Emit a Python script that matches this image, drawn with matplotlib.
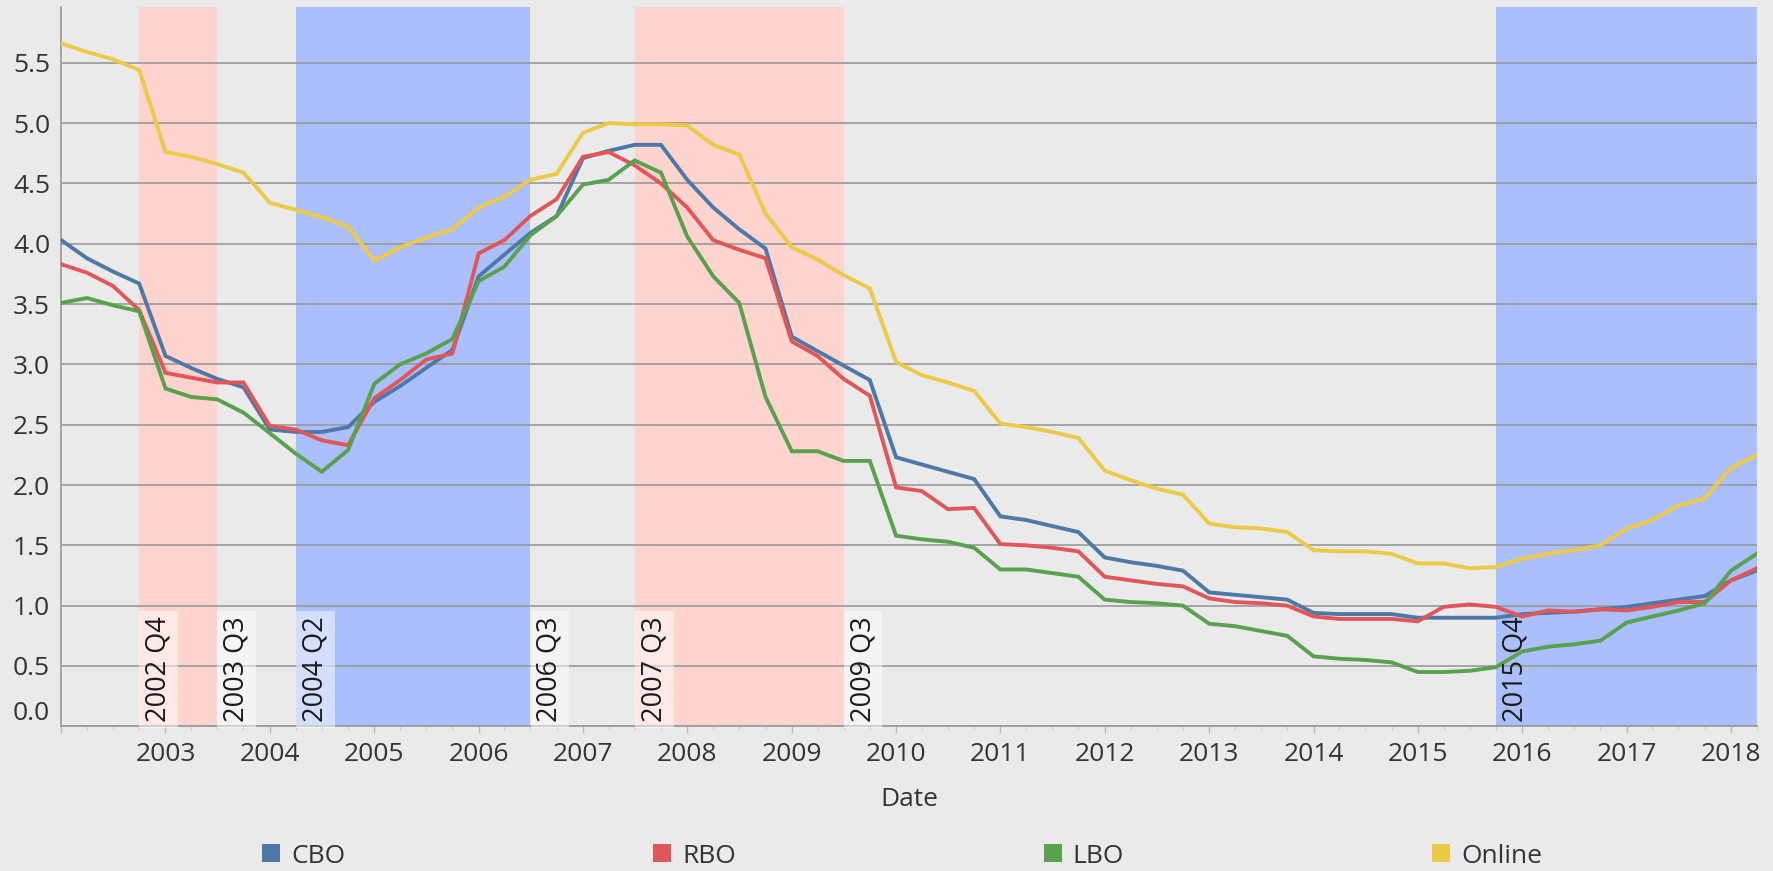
import matplotlib
matplotlib.use('Agg')
import matplotlib.pyplot as plt
import matplotlib.dates as mdates
from matplotlib.patches import Patch
import pandas as pd
import numpy as np

# ---- data (quarterly, 2002 Q1 .. 2018 Q2) ----
dates = pd.date_range('2002-01-01', periods=66, freq='QS')

cbo = [4.03, 3.88, 3.77, 3.67, 3.07, 2.97, 2.88, 2.81, 2.46, 2.44, 2.44, 2.48,
       2.69, 2.82, 2.97, 3.12, 3.73, 3.91, 4.09, 4.23, 4.71, 4.77, 4.82, 4.82,
       4.53, 4.30, 4.12, 3.96, 3.23, 3.11, 2.99, 2.87, 2.23, 2.17, 2.11, 2.05,
       1.74, 1.71, 1.66, 1.61, 1.40, 1.36, 1.33, 1.29, 1.11, 1.09, 1.07, 1.05,
       0.94, 0.93, 0.93, 0.93, 0.90, 0.90, 0.90, 0.90, 0.93, 0.94, 0.95, 0.97,
       0.99, 1.02, 1.05, 1.08, 1.21, 1.29]
rbo = [3.83, 3.76, 3.65, 3.45, 2.93, 2.89, 2.85, 2.85, 2.49, 2.46, 2.37, 2.33,
       2.72, 2.87, 3.04, 3.09, 3.92, 4.03, 4.23, 4.37, 4.72, 4.76, 4.65, 4.50,
       4.30, 4.03, 3.95, 3.88, 3.19, 3.07, 2.88, 2.74, 1.98, 1.95, 1.80, 1.81,
       1.51, 1.50, 1.48, 1.45, 1.24, 1.21, 1.18, 1.16, 1.06, 1.03, 1.02, 1.00,
       0.91, 0.89, 0.89, 0.89, 0.87, 0.99, 1.01, 0.99, 0.91, 0.96, 0.95, 0.97,
       0.96, 0.99, 1.03, 1.03, 1.21, 1.31]
lbo = [3.51, 3.55, 3.49, 3.44, 2.80, 2.73, 2.71, 2.60, 2.43, 2.26, 2.11, 2.29,
       2.84, 3.00, 3.09, 3.21, 3.69, 3.81, 4.07, 4.23, 4.49, 4.53, 4.69, 4.59,
       4.06, 3.73, 3.51, 2.73, 2.28, 2.28, 2.20, 2.20, 1.58, 1.55, 1.53, 1.48,
       1.30, 1.30, 1.27, 1.24, 1.05, 1.03, 1.02, 1.00, 0.85, 0.83, 0.79, 0.75,
       0.58, 0.56, 0.55, 0.53, 0.45, 0.45, 0.46, 0.49, 0.62, 0.66, 0.68, 0.71,
       0.86, 0.91, 0.96, 1.02, 1.29, 1.43]
online = [5.66, 5.59, 5.53, 5.44, 4.76, 4.72, 4.66, 4.59, 4.34, 4.28, 4.22, 4.14,
          3.86, 3.97, 4.05, 4.12, 4.30, 4.39, 4.53, 4.58, 4.92, 5.00, 4.99, 4.99,
          4.98, 4.82, 4.74, 4.25, 3.97, 3.87, 3.74, 3.63, 3.02, 2.91, 2.85, 2.78,
          2.51, 2.48, 2.44, 2.39, 2.12, 2.04, 1.97, 1.92, 1.68, 1.65, 1.64, 1.61,
          1.46, 1.45, 1.45, 1.43, 1.35, 1.35, 1.31, 1.32, 1.39, 1.43, 1.46, 1.50,
          1.64, 1.71, 1.83, 1.89, 2.14, 2.25]

series_names = ['CBO', 'RBO', 'LBO', 'Online']
series_values = [cbo, rbo, lbo, online]
series_colors = ['#4E79A7', '#E15759', '#59A14F', '#EDC948']

period_starts = ['2002-10-01', '2004-04-01', '2007-07-01', '2015-10-01']
period_ends = ['2003-07-01', '2006-07-01', '2009-07-01', '2018-04-01']
period_colors = ['#FFD3CE', '#AABFFC', '#FFD3CE', '#AABFFC']
start_labels = ['2002 Q4', '2004 Q2', '2007 Q3', '2015 Q4']
end_labels = ['2003 Q3', '2006 Q3', '2009 Q3', None]
start_boxed = [True, True, True, False]

y_ticks = [0.0, 0.5, 1.0, 1.5, 2.0, 2.5, 3.0, 3.5, 4.0, 4.5, 5.0, 5.5]

# ---- figure ----
plt.rcParams['font.family'] = ['Open Sans', 'DejaVu Sans']
BG = '#EAEAEA'
FS = 19
W, H = 1773, 871
fig = plt.figure(figsize=(W / 100, H / 100), dpi=100, facecolor=BG)
L, R, T, B = 61.2, 1756.7, 7.3, 726.3
ax = fig.add_axes([L / W, 1 - B / H, (R - L) / W, (B - T) / H])
ax.set_facecolor(BG)

for s, e, c in zip(period_starts, period_ends, period_colors):
    ax.axvspan(pd.Timestamp(s), pd.Timestamp(e), color=c, lw=0, zorder=0.2)

for name, vals, col in zip(series_names, series_values, series_colors):
    ax.plot(dates, vals, color=col, lw=2.8, label=name, zorder=3,
            solid_joinstyle='miter')

box = dict(boxstyle='square,pad=0.2', facecolor='white', alpha=0.5, edgecolor='none')


def period_label(date_str, text, boxed):
    ax.annotate(text, xy=(pd.Timestamp(date_str), 0), xycoords=('data', 'axes fraction'),
                xytext=(4, 3), textcoords='offset points', rotation=90,
                ha='left', va='bottom', fontsize=19.5, color='#1a1a1a', zorder=5,
                bbox=box if boxed else None)


for s, lab, bx in zip(period_starts, start_labels, start_boxed):
    period_label(s, lab, bx)
for e, lab in zip(period_ends, end_labels):
    if lab:
        period_label(e, lab, True)

ax.set_xlim(pd.Timestamp('2002-01-01'), pd.Timestamp('2018-04-01'))
ax.set_ylim(0, 5.96)

ax.set_yticks(y_ticks)
ax.set_yticklabels([f'{v:.1f}' for v in y_ticks])
ax.yaxis.grid(True, color='#999999', lw=1.2)
ax.set_axisbelow(True)
ax.tick_params(axis='y', length=0, pad=8, labelsize=FS, labelcolor='#333333')
ax.get_yticklabels()[0].set_verticalalignment('bottom')

ax.xaxis.set_major_locator(mdates.YearLocator())
ax.xaxis.set_major_formatter(mdates.DateFormatter('%Y'))
ax.xaxis.set_minor_locator(mdates.MonthLocator(bymonth=(1, 4, 7, 10)))
ax.tick_params(axis='x', which='major', length=5, width=1, color='#bbbbbb',
               pad=6, labelsize=FS, labelcolor='#333333')
ax.tick_params(axis='x', which='minor', length=3, width=1, color='#d0d0d0')
ax.set_xlabel('Date', fontsize=FS, color='#333333', va='center')
ax.xaxis.set_label_coords(0.5, -(799 - B) / (B - T))

for side in ['top', 'right']:
    ax.spines[side].set_visible(False)
for side in ['left', 'bottom']:
    ax.spines[side].set_color('#999999')
    ax.spines[side].set_linewidth(1.2)

# hide the 2002 label at the left edge
fig.canvas.draw()
for lab in ax.get_xticklabels():
    if lab.get_text() == '2002':
        lab.set_visible(False)

# legend: columns start every 390 px
handles = [Patch(facecolor=c, edgecolor='none') for c in series_colors]
em = FS * 100 / 72.0
leg_kw = dict(loc='center left', bbox_to_anchor=(262 / W, 1 - 856 / H), ncol=4,
              frameon=False, fontsize=FS, labelcolor='#333333', handlelength=0.68,
              handleheight=0.68, handletextpad=0.42, borderpad=0, borderaxespad=0)
leg = fig.legend(handles, series_names, columnspacing=11.75, **leg_kw)
fig.canvas.draw()
renderer = fig.canvas.get_renderer()
widths = [t.get_window_extent(renderer).width for t in leg.get_texts()]
col_w = [0.68 * em + 0.42 * em + w for w in widths[:3]]
cs_px = 390 - float(np.mean(col_w))
leg.remove()
fig.legend(handles, series_names, columnspacing=cs_px / em, **leg_kw)

fig.savefig('out.png', dpi=100, facecolor=BG)
